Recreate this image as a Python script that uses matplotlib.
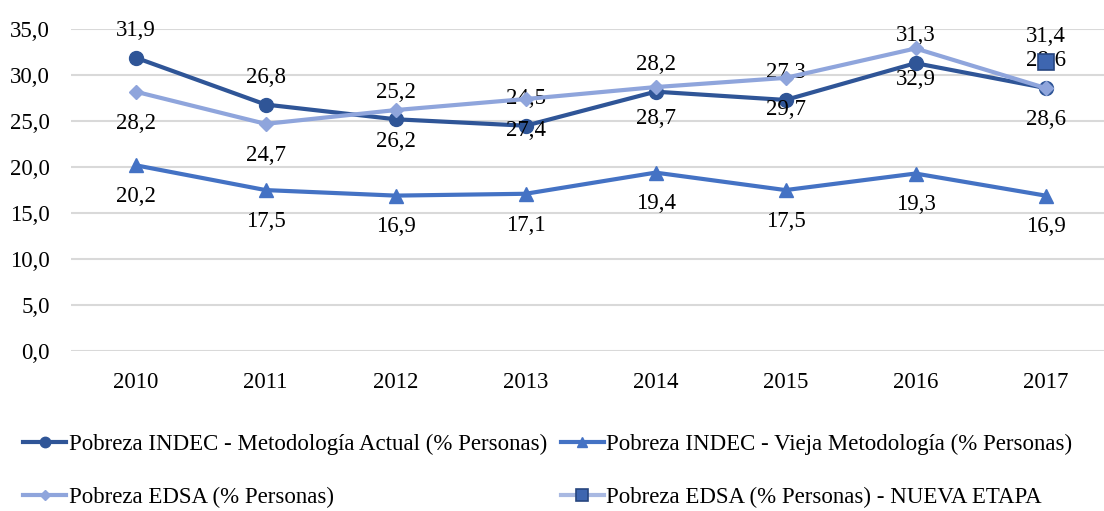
import matplotlib.pyplot as plt

years = ["2010", "2011", "2012", "2013", "2014", "2015", "2016", "2017"]
indec_actual = [31.9, 26.8, 25.2, 24.5, 28.2, 27.3, 31.3, 28.6]
indec_vieja = [20.2, 17.5, 16.9, 17.1, 19.4, 17.5, 19.3, 16.9]
edsa = [28.2, 24.7, 26.2, 27.4, 28.7, 29.7, 32.9, 28.6]
edsa_nueva = [None, None, None, None, None, None, None, 31.4]

yticks = [0, 5, 10, 15, 20, 25, 30, 35]

c_dark = "#2F5597"
c_mid = "#4472C4"
c_light = "#8FA5DC"

plt.rcParams["font.family"] = ["Liberation Serif", "DejaVu Serif"]
fs = 16.5

fig = plt.figure(figsize=(11.04, 5.11), dpi=100)
ax = fig.add_axes([0.064, 0.313, 0.936, 0.63])

x = list(range(len(years)))

ax.plot(x, indec_vieja, color=c_mid, lw=3, marker="^", ms=10,
        label="Pobreza INDEC - Vieja Metodología (% Personas)", zorder=3)
ax.plot(x, indec_actual, color=c_dark, lw=3, marker="o", ms=10,
        label="Pobreza INDEC - Metodología Actual (% Personas)", zorder=3)
ax.plot(x, edsa, color=c_light, lw=3, marker="D", ms=7,
        label="Pobreza EDSA (% Personas)", zorder=4)
nx = [i for i, v in enumerate(edsa_nueva) if v is not None]
ny = [v for v in edsa_nueva if v is not None]
ax.plot(nx, ny, color="#A9B9E2", lw=3, marker="s", ms=12, mfc="#3E66B0",
        mec="#27467F", mew=1.2, label="Pobreza EDSA (% Personas) - NUEVA ETAPA", zorder=5)

def fmt(v):
    return f"{v:.1f}".replace(".", ",")

for i, v in enumerate(indec_actual):
    ax.annotate(fmt(v), (i, v), xytext=(0, 12), textcoords="offset points",
                ha="center", va="bottom", fontsize=fs)
for i, v in enumerate(edsa):
    ax.annotate(fmt(v), (i, v), xytext=(0, -15), textcoords="offset points",
                ha="center", va="top", fontsize=fs)
for i, v in enumerate(indec_vieja):
    ax.annotate(fmt(v), (i, v), xytext=(0, -15), textcoords="offset points",
                ha="center", va="top", fontsize=fs)
for i, v in zip(nx, ny):
    ax.annotate(fmt(v), (i, v), xytext=(0, 11), textcoords="offset points",
                ha="center", va="bottom", fontsize=fs)

ax.set_xlim(-0.5, 7.45)
ax.set_ylim(0, 35)
ax.set_xticks(x)
ax.set_xticklabels(years, fontsize=fs)
ax.set_yticks(yticks)
ax.set_yticklabels([fmt(v) for v in yticks], fontsize=fs)
ax.tick_params(axis="x", length=0, pad=15)
ax.tick_params(axis="y", length=0, pad=15)
ax.grid(axis="y", color="#D9D9D9", lw=1.5)
ax.set_axisbelow(True)
for s in ax.spines.values():
    s.set_visible(False)

handles, labels = ax.get_legend_handles_labels()
order = [1, 2, 0, 3]
fig.legend([handles[i] for i in order], [labels[i] for i in order],
           loc="lower left", bbox_to_anchor=(0.002, -0.035), ncol=2, frameon=False,
           fontsize=fs, handlelength=1.9, handletextpad=0.1, columnspacing=0.6,
           labelspacing=1.4, markerscale=0.75)

fig.savefig("out.png", dpi=100)
